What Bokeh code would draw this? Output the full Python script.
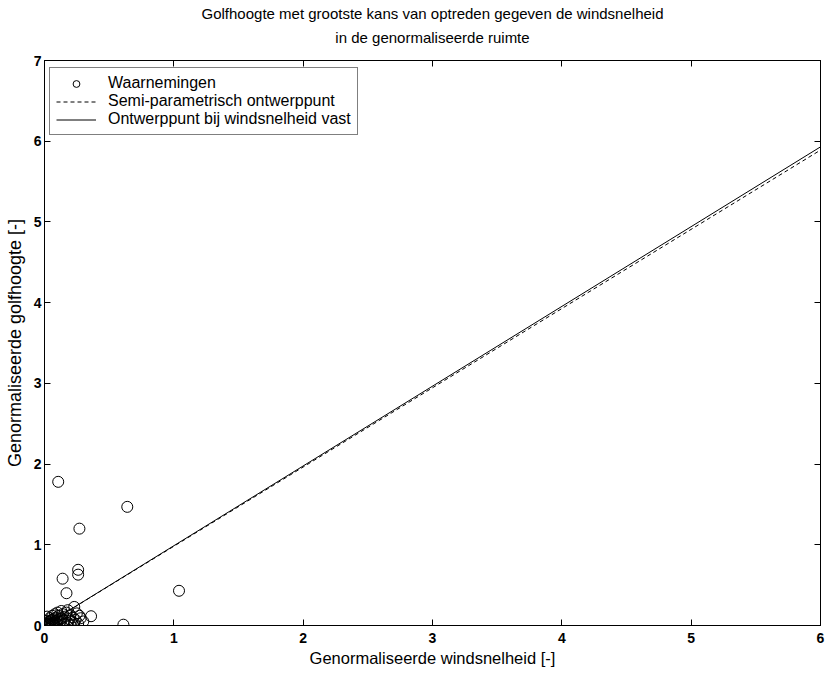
from bokeh.plotting import figure
from bokeh.models import Range1d, LinearAxis, Legend, LegendItem, FixedTicker, Title
from bokeh.embed import file_html
from bokeh.resources import INLINE

# Observations (normalised wind speed, normalised wave height)
wind = [0.106, 0.64, 0.27, 0.26, 0.26, 0.14, 0.17, 1.04, 0.36, 0.61, 0.23, -0.07,
        0.00, 0.01, 0.02, 0.03, 0.04, 0.05, 0.06, 0.07, 0.08, 0.09, 0.10, 0.11,
        0.12, 0.13, 0.14, 0.15, 0.16, 0.17, 0.18, 0.19, 0.20, 0.21, 0.22, 0.24,
        0.25, 0.26, 0.28, 0.30, 0.02, 0.03, 0.04, 0.05, 0.06, 0.07, 0.08, 0.09,
        0.10, 0.11, 0.12, 0.13, 0.06, 0.01, 0.02, 0.04, 0.08, 0.15, 0.18, 0.20,
        0.23, 0.27]
wave = [1.78, 1.47, 1.20, 0.69, 0.63, 0.58, 0.40, 0.43, 0.115, 0.01, 0.23, 0.02,
        0.00, 0.02, 0.01, 0.04, 0.02, 0.06, 0.03, 0.08, 0.05, 0.10, 0.07, 0.12,
        0.04, 0.09, 0.14, 0.06, 0.11, 0.16, 0.03, 0.08, 0.13, 0.05, 0.10, 0.07,
        0.15, 0.02, 0.09, 0.05, 0.06, 0.00, 0.09, 0.01, 0.12, 0.02, 0.14, 0.03,
        0.16, 0.01, 0.08, 0.18, 0.07, 0.05, 0.11, 0.05, 0.00, 0.02, 0.19, 0.01,
        0.03, 0.12]

# Design point lines
line_x = [0, 6]
semi_param_y = [0, 5.89]
fixed_wind_y = [0, 5.93]

x_ticks = [0, 1, 2, 3, 4, 5, 6]
y_ticks = [0, 1, 2, 3, 4, 5, 6, 7]

title_line1 = "Golfhoogte met grootste kans van optreden gegeven de windsnelheid"
title_line2 = "in de genormaliseerde ruimte"

FONT = "Liberation Sans"

p = figure(width=825, height=674, output_backend="svg", toolbar_location=None,
           x_range=Range1d(0, 6), y_range=Range1d(0, 7), title=None,
           min_border_left=44, min_border_right=5, min_border_top=60, min_border_bottom=49)

p.xgrid.visible = False
p.ygrid.visible = False
p.outline_line_color = "black"
p.outline_line_width = 1
p.background_fill_color = "white"
p.border_fill_color = "white"

r_obs = p.scatter(wind, wave, marker="circle", size=11, fill_color=None,
                  line_color="black", line_width=1)
r_dash = p.line(line_x, semi_param_y, line_color="black", line_width=1, line_dash="4 3")
r_solid = p.line(line_x, fixed_wind_y, line_color="black", line_width=1)

for ax in (p.xaxis[0], p.yaxis[0]):
    ax.major_tick_in = 6
    ax.major_tick_out = 0
    ax.minor_tick_line_color = None
    ax.major_label_text_font = FONT
    ax.major_label_text_font_size = "14px"
    ax.major_label_text_font_style = "bold"
    ax.major_label_text_color = "black"
    ax.axis_label_text_font = FONT
    ax.axis_label_text_font_style = "normal"
    ax.axis_label_text_color = "black"
    ax.axis_line_color = "black"
    ax.major_tick_line_color = "black"

p.xaxis[0].axis_label_text_font_size = "16.5px"
p.yaxis[0].axis_label_text_font_size = "18px"
p.xaxis[0].ticker = FixedTicker(ticks=x_ticks)
p.yaxis[0].ticker = FixedTicker(ticks=y_ticks)
p.xaxis[0].axis_label = "Genormaliseerde windsnelheid [-]"
p.yaxis[0].axis_label = "Genormaliseerde golfhoogte [-]"
p.xaxis[0].major_label_standoff = 7
p.xaxis[0].axis_label_standoff = 3
p.yaxis[0].major_label_standoff = 3
p.yaxis[0].axis_label_standoff = 6

top_ax = LinearAxis(ticker=FixedTicker(ticks=x_ticks), major_tick_in=6, major_tick_out=0,
                    minor_tick_line_color=None, major_label_text_font_size="1px",
                    major_label_text_color=None, major_label_standoff=0)
right_ax = LinearAxis(ticker=FixedTicker(ticks=y_ticks), major_tick_in=6, major_tick_out=0,
                      minor_tick_line_color=None, major_label_text_font_size="1px",
                      major_label_text_color=None, major_label_standoff=0)
p.add_layout(top_ax, "above")
p.add_layout(right_ax, "right")

t2 = Title(text=title_line2, align="center", text_font=FONT, text_font_size="15px",
           text_font_style="normal", text_color="black", standoff=26, offset=0,
           vertical_align="top")
t1 = Title(text=title_line1, align="center", text_font=FONT, text_font_size="15px",
           text_font_style="normal", text_color="black", standoff=-13, offset=0)
p.add_layout(t2, "above")
p.add_layout(t1, "above")

legend = Legend(items=[
    LegendItem(label="Waarnemingen", renderers=[r_obs]),
    LegendItem(label="Semi-parametrisch ontwerppunt", renderers=[r_dash]),
    LegendItem(label="Ontwerppunt bij windsnelheid vast", renderers=[r_solid]),
], location="top_left")
legend.margin = 0
legend.location = (5, 490)
legend.padding = 6
legend.spacing = 0
legend.label_height = 17
legend.glyph_height = 17
legend.glyph_width = 40
legend.label_standoff = 12
legend.label_text_font = FONT
legend.label_text_font_size = "16px"
legend.label_text_color = "black"
legend.border_line_color = "black"
legend.border_line_width = 1
legend.background_fill_color = "white"
legend.background_fill_alpha = 1
p.add_layout(legend, "center")

open("out.html", "w").write(file_html(p, INLINE))
